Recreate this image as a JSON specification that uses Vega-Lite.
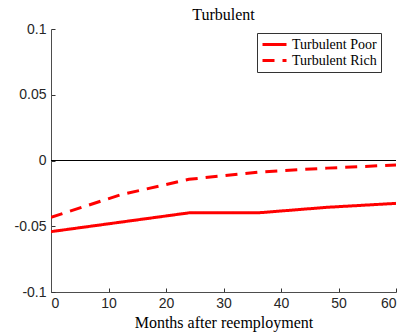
{
  "$schema": "https://vega.github.io/schema/vega-lite/v6.json",
  "width": 345,
  "height": 263,
  "autosize": {"type": "none"},
  "padding": {"left": 51, "top": 29, "right": 8, "bottom": 42},
  "background": "white",
  "title": {
    "text": "Turbulent",
    "font": "Liberation Serif",
    "fontSize": 16,
    "fontWeight": "normal",
    "color": "#000000",
    "anchor": "middle",
    "offset": -1
  },
  "config": {
    "view": {"stroke": null},
    "axis": {
      "domainColor": "#4d4d4d",
      "domainWidth": 1,
      "tickColor": "#333333",
      "tickWidth": 1,
      "tickSize": -4,
      "grid": false,
      "labelFont": "Liberation Sans",
      "labelFontSize": 14,
      "labelColor": "#262626"
    },
    "legend": {
      "title": null,
      "orient": "none",
      "legendX": 206,
      "legendY": 4,
      "direction": "vertical",
      "symbolType": "M-2,0H2",
      "symbolSize": 144,
      "symbolOffset": 6,
      "symbolStrokeWidth": 3,
      "labelFont": "Liberation Serif",
      "labelFontSize": 14,
      "labelColor": "#000000",
      "labelOffset": 10,
      "rowPadding": 1,
      "padding": 4,
      "strokeColor": "#333333",
      "fillColor": "#ffffff"
    }
  },
  "datasets": {
    "series": [
      {"month": 0, "value": -0.0541, "group": "Turbulent Poor"},
      {"month": 24, "value": -0.0398, "group": "Turbulent Poor"},
      {"month": 36, "value": -0.0398, "group": "Turbulent Poor"},
      {"month": 48, "value": -0.0356, "group": "Turbulent Poor"},
      {"month": 60, "value": -0.0326, "group": "Turbulent Poor"},
      {"month": 0, "value": -0.0432, "group": "Turbulent Rich"},
      {"month": 12, "value": -0.0262, "group": "Turbulent Rich"},
      {"month": 24, "value": -0.0143, "group": "Turbulent Rich"},
      {"month": 36, "value": -0.0088, "group": "Turbulent Rich"},
      {"month": 48, "value": -0.0058, "group": "Turbulent Rich"},
      {"month": 60, "value": -0.0034, "group": "Turbulent Rich"}
    ],
    "zero": [{"y": 0}]
  },
  "layer": [
    {
      "data": {"name": "zero"},
      "mark": {"type": "rule", "color": "#000000", "strokeWidth": 1},
      "encoding": {"y": {"field": "y", "type": "quantitative"}}
    },
    {
      "data": {"name": "series"},
      "mark": {"type": "line", "strokeWidth": 3, "clip": true},
      "encoding": {
        "x": {
          "field": "month",
          "type": "quantitative",
          "scale": {"domain": [0, 60], "nice": false},
          "axis": {
            "values": [0, 10, 20, 30, 40, 50, 60],
            "title": "Months after reemployment",
            "titleFont": "Liberation Serif",
            "titleFontSize": 16,
            "titleFontWeight": "normal",
            "titleColor": "#000000",
            "titlePadding": 4,
            "labelPadding": 8
          }
        },
        "y": {
          "field": "value",
          "type": "quantitative",
          "scale": {"domain": [-0.1, 0.1], "nice": false, "zero": false},
          "axis": {
            "values": [-0.1, -0.05, 0, 0.05, 0.1],
            "labelExpr": "'' + datum.value",
            "title": null,
            "labelPadding": 9,
            "labelBaseline": "middle"
          }
        },
        "color": {
          "field": "group",
          "type": "nominal",
          "scale": {"domain": ["Turbulent Poor", "Turbulent Rich"], "range": ["#ff0000", "#ff0000"]}
        },
        "strokeDash": {
          "field": "group",
          "type": "nominal",
          "scale": {"domain": ["Turbulent Poor", "Turbulent Rich"], "range": [[1, 0], [12, 8]]}
        }
      }
    }
  ]
}
